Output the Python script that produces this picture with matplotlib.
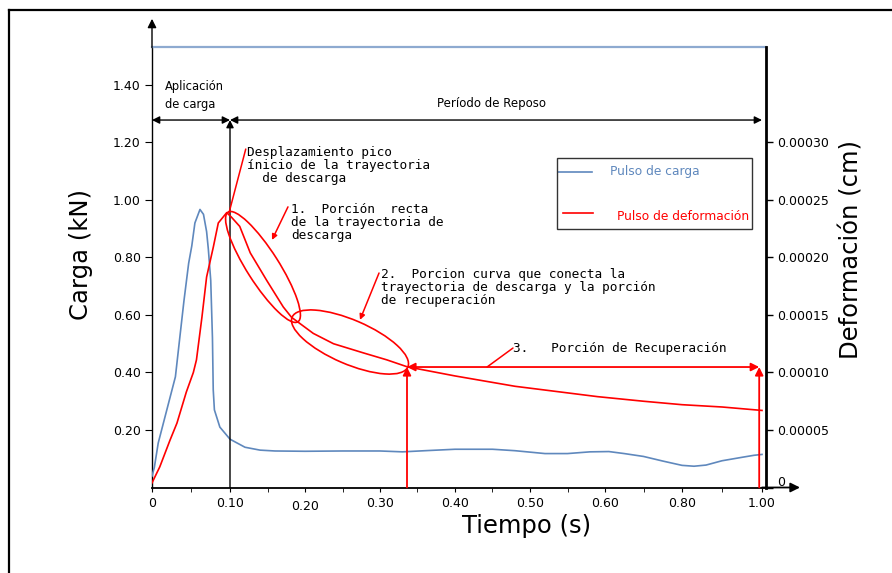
import numpy as np
import matplotlib
matplotlib.use("Agg")
import matplotlib.pyplot as plt
from matplotlib.patches import Ellipse, Rectangle
from matplotlib.lines import Line2D
from matplotlib import transforms

# ---------------- data ----------------
load_time = [0.000, 0.003, 0.008, 0.019, 0.030, 0.036, 0.041, 0.047, 0.051, 0.055,
             0.0615, 0.066, 0.070, 0.0722, 0.0753, 0.0775, 0.0785, 0.080, 0.087, 0.100,
             0.120, 0.140, 0.160, 0.200, 0.250, 0.300, 0.330, 0.360, 0.400, 0.450,
             0.480, 0.520, 0.550, 0.580, 0.610, 0.650, 0.700, 0.750, 0.800, 0.830,
             0.860, 0.900, 0.950, 0.980, 1.000]
load_kN = [0.04, 0.07, 0.155, 0.27, 0.385, 0.53, 0.65, 0.78, 0.84, 0.92,
           0.967, 0.95, 0.89, 0.83, 0.72, 0.52, 0.34, 0.27, 0.21, 0.168,
           0.14, 0.13, 0.127, 0.126, 0.127, 0.127, 0.124, 0.128, 0.133, 0.133,
           0.128, 0.118, 0.118, 0.124, 0.125, 0.118, 0.108, 0.092, 0.077, 0.074,
           0.078, 0.093, 0.105, 0.112, 0.115]

def_time = [0.000, 0.010, 0.023, 0.032, 0.044, 0.053, 0.057, 0.064, 0.070, 0.0786,
            0.085, 0.0958, 0.102, 0.113, 0.127, 0.149, 0.171, 0.182, 0.211, 0.238,
            0.278, 0.309, 0.336, 0.400, 0.480, 0.590, 0.700, 0.800, 0.900, 1.000]
def_cm = [0.000004, 0.000018, 0.000041, 0.000056, 0.000083, 0.000100, 0.000111, 0.000148, 0.000183, 0.000209,
          0.000230, 0.000239, 0.000235, 0.000227, 0.000204, 0.000180, 0.000157, 0.000148, 0.000134, 0.000125,
          0.000117, 0.000111, 0.000105, 0.000097, 0.000088, 0.000079, 0.000075, 0.000072, 0.000070, 0.000067]

x_ticks = [0, 0.1, 0.2, 0.3, 0.4, 0.5, 0.6, 0.8, 1.0]
x_ticklabels = ["0", "0.10", "0.20", "0.30", "0.40", "0.50", "0.60", "0.80", "1.00"]
x_minor = [0.05, 0.15, 0.25, 0.35, 0.45, 0.55, 0.7, 0.9]
yl_ticks = [0.2, 0.4, 0.6, 0.8, 1.0, 1.2, 1.4]
yl_ticklabels = ["0.20", "0.40", "0.60", "0.80", "1.00", "1.20", "1.40"]
yr_ticks = [0, 0.00005, 0.00010, 0.00015, 0.00020, 0.00025, 0.00030]
yr_ticklabels = ["0", "0.00005", "0.00010", "0.00015", "0.00020", "0.00025", "0.00030"]

load_label = "Pulso de carga"
def_label = "Pulso de deformación"

BLUE = "#5f88bd"
RED = "#ff0000"

# irregular (hand drawn) time axis of the original figure
T_BRK = [-1.0, 0, 0.1, 0.2, 0.3, 0.4, 0.5, 0.6, 0.8, 1.0, 3.0]
P_BRK = [-780, 0, 78, 153, 228, 303, 378, 453, 530, 610, 1410]


def fwd(t):
    return np.interp(t, T_BRK, P_BRK)


def inv(p):
    return np.interp(p, P_BRK, T_BRK)


W, H = 892, 573
fig = plt.figure(figsize=(W / 100, H / 100), dpi=100)
ax = fig.add_axes([152 / W, (H - 487.5) / H, (766 - 152) / W, (487.5 - 47) / H])
ax2 = ax.twinx()

ax.set_xscale("function", functions=(fwd, inv))
ax.set_xlim(0, 1.01)
ax.set_ylim(0, 1.532)
ax2.set_ylim(0, 1.532 * 0.00025)

ax.plot(load_time, load_kN, color=BLUE, lw=1.2, zorder=3)
ax2.plot(def_time, def_cm, color=RED, lw=1.2, zorder=3)

# spines
for s in ["top", "bottom", "left", "right"]:
    ax2.spines[s].set_visible(False)
ax.spines["right"].set_visible(False)
ax2.spines["right"].set_visible(True)
ax2.spines["right"].set_linewidth(2.0)
ax.spines["top"].set_color("#8eaad0")
ax.spines["top"].set_linewidth(1.6)
ax.spines["left"].set_linewidth(1.0)
ax.spines["bottom"].set_linewidth(1.3)

# ticks
ax.set_xticks(x_ticks)
ax.set_xticklabels(x_ticklabels, fontsize=9)
ax.set_xticks(x_minor, minor=True)
ax.tick_params(axis="x", which="major", length=3, pad=4)
ax.tick_params(axis="x", which="minor", length=3)
ax.set_yticks(yl_ticks)
ax.set_yticklabels(yl_ticklabels, fontsize=9)
ax.tick_params(axis="y", length=5, pad=3)
ax2.set_yticks(yr_ticks)
ax2.set_yticklabels(yr_ticklabels, fontsize=9)
ax2.tick_params(axis="y", length=5, pad=3, width=1)

# small label offsets as in the original drawing
lbl0 = ax2.yaxis.get_major_ticks()[0].label2
lbl0.set_transform(lbl0.get_transform() + transforms.ScaledTranslation(0, 7 / 100, fig.dpi_scale_trans))
lbl20 = ax.xaxis.get_major_ticks()[2].label1
lbl20.set_transform(lbl20.get_transform() + transforms.ScaledTranslation(0, -3 / 100, fig.dpi_scale_trans))

# axis titles
fig.text(81 / W, 1 - 254 / H, "Carga (kN)", rotation=90, ha="center", va="center", fontsize=17.5)
fig.text(851 / W, 1 - 249 / H, "Deformación (cm)", rotation=90, ha="center", va="center", fontsize=17.5)
fig.text(527 / W, 1 - 526 / H, "Tiempo (s)", ha="center", va="center", fontsize=17.5)

# axis arrows
ax.annotate("", xy=(1.095, 0), xytext=(1.0, 0), annotation_clip=False,
            arrowprops=dict(arrowstyle="-|>", color="black", lw=1.3, mutation_scale=14, shrinkA=0, shrinkB=0))
ax.annotate("", xy=(0, 1.63), xytext=(0, 1.53), annotation_clip=False,
            arrowprops=dict(arrowstyle="-|>", color="black", lw=1.0, mutation_scale=13, shrinkA=0, shrinkB=0))

# black period arrows
Y_AR = 1.278
blk = dict(color="black", lw=1.0, mutation_scale=11, shrinkA=0, shrinkB=0)
ax.annotate("", xy=(0, Y_AR), xytext=(0.1, Y_AR), arrowprops=dict(arrowstyle="<|-|>", **blk))
ax.annotate("", xy=(1.0, Y_AR), xytext=(0.1, Y_AR), arrowprops=dict(arrowstyle="<|-|>", **blk))
ax.annotate("", xy=(0.1, Y_AR), xytext=(0.1, 0), arrowprops=dict(arrowstyle="-|>", **blk))
ax.text(0.017, 1.362, "Aplicación\nde carga", fontsize=8.3, ha="left", va="center", linespacing=1.5)
ax.text(0.449, 1.334, "Período de Reposo", fontsize=8.5, ha="center", va="center")

# red annotation shapes
def ellipse_at(cx, cy, wpx, hpx, ang):
    tr = fig.dpi_scale_trans + transforms.ScaledTranslation(cx, cy, ax.transData)
    e = Ellipse((0, 0), wpx / 100, hpx / 100, angle=ang, transform=tr, fill=False,
                edgecolor=RED, lw=1.2, clip_on=False, zorder=4)
    ax.add_patch(e)

ellipse_at(0.144, 0.767, 130, 32, -57.5)
ellipse_at(0.26, 0.506, 126, 44, -23.3)

red = dict(color=RED, lw=1.1, shrinkA=0, shrinkB=0)
ax.annotate("", xy=(0.0987, 0.955), xytext=(0.121, 1.177), arrowprops=dict(arrowstyle="-", **red))
ax.annotate("", xy=(0.156, 0.861), xytext=(0.1773, 0.976),
            arrowprops=dict(arrowstyle="-|>", mutation_scale=8, **red))
ax.annotate("", xy=(0.2733, 0.583), xytext=(0.2987, 0.746),
            arrowprops=dict(arrowstyle="-|>", mutation_scale=8, **red))
ax.annotate("", xy=(0.4427, 0.419), xytext=(0.4773, 0.485), arrowprops=dict(arrowstyle="-", **red))
redh = dict(color=RED, lw=1.3, shrinkA=0, shrinkB=0, mutation_scale=12)
ax.annotate("", xy=(0.336, 0.419), xytext=(0.993, 0.419), arrowprops=dict(arrowstyle="<|-|>", **redh))
ax.annotate("", xy=(0.336, 0.419), xytext=(0.336, 0), arrowprops=dict(arrowstyle="-|>", **redh))
ax.annotate("", xy=(0.993, 0.419), xytext=(0.993, 0), arrowprops=dict(arrowstyle="-|>", **redh))

# CAD style notes
cad = dict(family="DejaVu Sans Mono", fontsize=9.2, ha="left", va="top", linespacing=1.0)
ax.text(0.1227, 1.186, "Desplazamiento pico\nínicio de la trayectoria\n  de descarga", **cad)
ax.text(0.1813, 0.99, "1.  Porción  recta\nde la trayectoria de\ndescarga", **cad)
ax.text(0.3013, 0.763, "2.  Porcion curva que conecta la\ntrayectoria de descarga y la porción\nde recuperación", **cad)
ax.text(0.4773, 0.485, "3.   Porción de Recuperación", family="DejaVu Sans Mono", fontsize=9.2,
        ha="left", va="center")

# legend box (drawn as in the original)
ax.add_patch(Rectangle((0.6596, 0.5868), 0.977 - 0.6596, 0.748 - 0.5868, transform=ax.transAxes,
                       fill=False, edgecolor="#333333", lw=1.0, zorder=5))
ax.add_line(Line2D([0.6612, 0.7166], [0.7169, 0.7169], transform=ax.transAxes, color=BLUE, lw=1.2))
ax.add_line(Line2D([0.6694, 0.7182], [0.6232, 0.6232], transform=ax.transAxes, color=RED, lw=1.2))
ax.text(0.7459, 0.7169, load_label, transform=ax.transAxes, color=BLUE, fontsize=8.8, va="center")
ax.text(0.7573, 0.6163, def_label, transform=ax.transAxes, color=RED, fontsize=8.8, va="center")

# outer frame of the original figure
fig.add_artist(Line2D([9 / W, 9 / W], [0, 1 - 10 / H], transform=fig.transFigure, color="black", lw=1.6))
fig.add_artist(Line2D([9 / W, 1], [1 - 10 / H, 1 - 10 / H], transform=fig.transFigure, color="black", lw=1.6))

fig.savefig("out.png", dpi=100)
